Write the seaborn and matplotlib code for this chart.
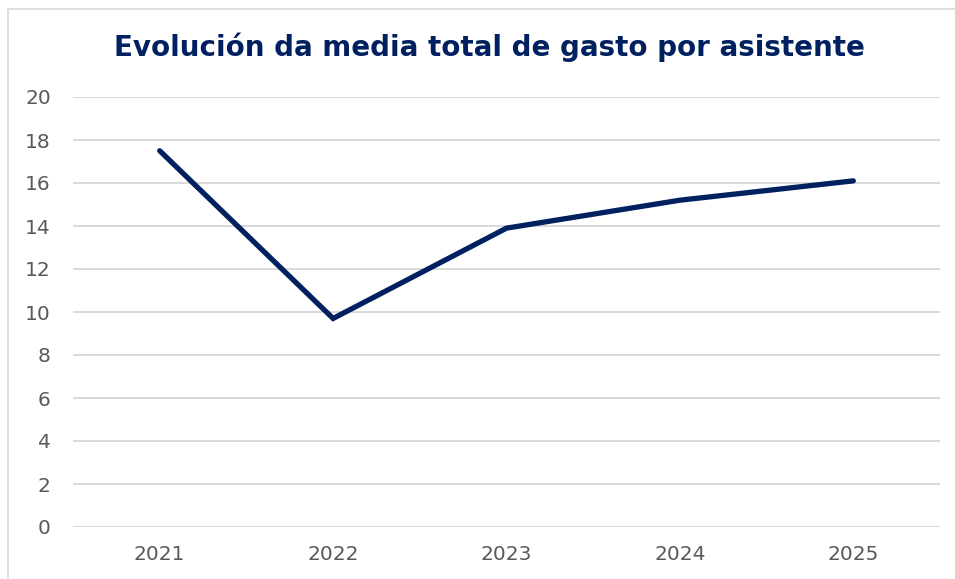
import matplotlib
matplotlib.use("Agg")
import matplotlib.pyplot as plt
import matplotlib.patches as mpatches
import seaborn as sns
import pandas as pd

# Average total spend per attendee, by year
years = ["2021", "2022", "2023", "2024", "2025"]
gasto_medio = [17.5, 9.7, 13.9, 15.2, 16.1]
y_ticks = [0, 2, 4, 6, 8, 10, 12, 14, 16, 18, 20]

title = "Evolución da media total de gasto por asistente"
navy = "#002060"
tick_grey = "#595959"
grid_grey = "#d9d9d9"

df = pd.DataFrame({"ano": years, "gasto": gasto_medio})

sns.set_theme(style="white")
plt.rcParams["font.family"] = ["DejaVu Sans"]

fig = plt.figure(figsize=(9.55, 5.79), dpi=100)
ax = fig.add_axes([73 / 955, 52 / 579, 867 / 955, 430 / 579])

sns.lineplot(data=df, x="ano", y="gasto", ax=ax, color=navy, linewidth=3.8,
             sort=False, solid_capstyle="round", solid_joinstyle="miter")

ax.set_xlim(-0.5, len(years) - 0.5)
ax.set_ylim(0, 20)
ax.set_yticks(y_ticks)
ax.grid(axis="y", color=grid_grey, linewidth=1.4)
ax.set_axisbelow(True)
for side in ax.spines.values():
    side.set_visible(False)
ax.tick_params(axis="both", length=0, labelsize=14.5, labelcolor=tick_grey)
ax.tick_params(axis="x", pad=13)
ax.tick_params(axis="y", pad=16)
ax.set_xlabel("")
ax.set_ylabel("")

# chart frame
frame = mpatches.Rectangle((8 / 955, -0.05), 1.2, (579 - 9) / 579 + 0.05,
                           transform=fig.transFigure, fill=False,
                           edgecolor="#d9d9d9", linewidth=1.2, zorder=0)
fig.patches.append(frame)

fig.text(489 / 955, 1 - 47 / 579, title, ha="center", va="center",
         fontsize=20, fontweight="bold", color=navy)

fig.savefig("out.png", dpi=100)
